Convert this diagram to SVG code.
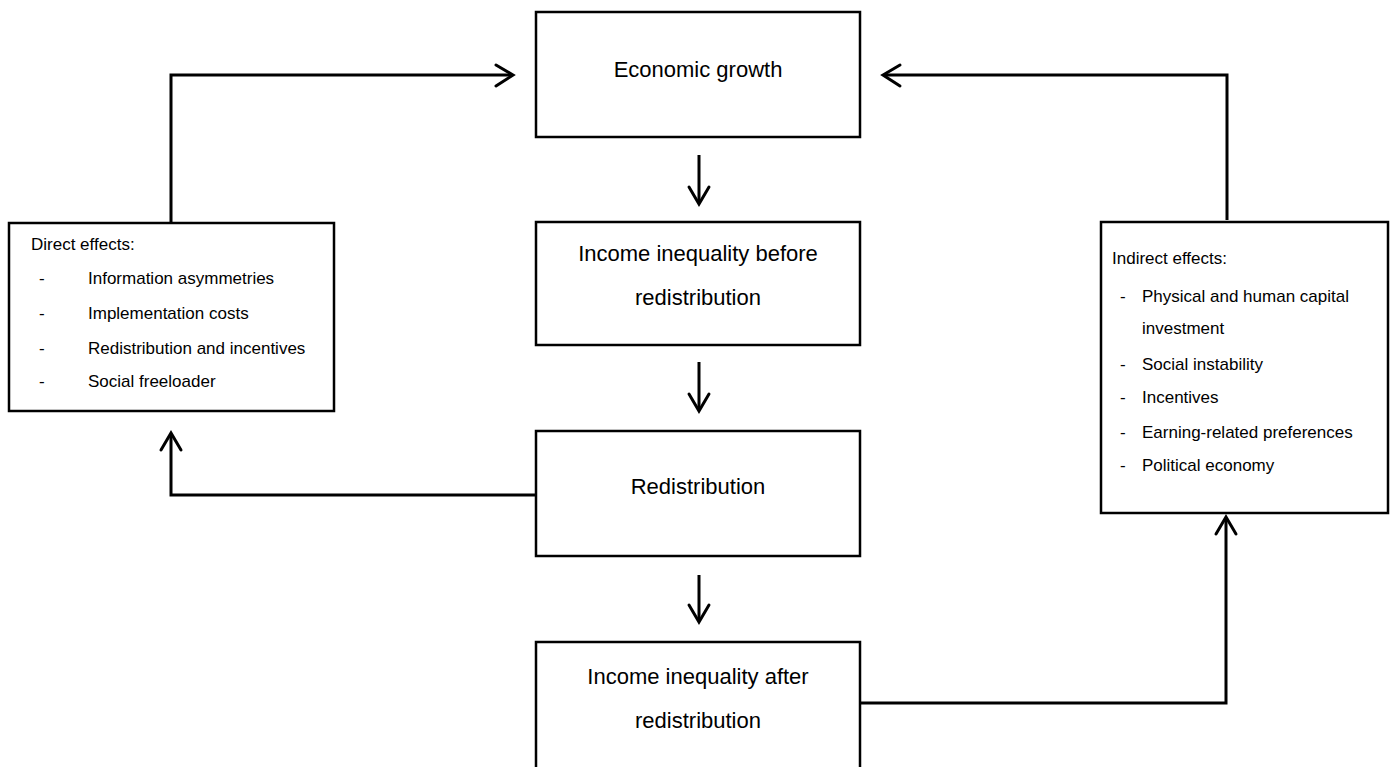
<svg xmlns="http://www.w3.org/2000/svg" width="1395" height="767" viewBox="0 0 1395 767">
<style>
.box{fill:#fff;stroke:#000;stroke-width:2.5}
.big{font-family:"Liberation Sans",Arial,sans-serif;font-size:22px;fill:#000;text-anchor:middle}
.sm{font-family:"Liberation Sans",Arial,sans-serif;font-size:17px;fill:#000}
.con{fill:none;stroke:#000;stroke-width:3}
.head{fill:none;stroke:#000;stroke-width:3;stroke-linecap:round;stroke-linejoin:miter}
</style>
<rect width="1395" height="767" fill="#fff"/>
<g id="connectors">
<path class="con" d="M171 223 V75 H512"/>
<path class="head" d="M496 65 L513 75 L496 86"/>
<path class="con" d="M1227 220 V75 H884"/>
<path class="head" d="M900 65 L883 75 L900 86"/>
<path class="con" d="M699 155 V203"/>
<path class="head" d="M689 187 L699 204 L709 187"/>
<path class="con" d="M699 362 V410"/>
<path class="head" d="M689 394 L699 411 L709 394"/>
<path class="con" d="M699 575 V621"/>
<path class="head" d="M689 605 L699 622 L709 605"/>
<path class="con" d="M535 495 H171 V434"/>
<path class="head" d="M161 450 L171 433 L181 450"/>
<path class="con" d="M860 703 H1226 V518"/>
<path class="head" d="M1216 534 L1226 517 L1236 534"/>
</g>
<g id="economic-growth">
<rect class="box" x="536" y="12" width="324" height="125"/>
<text class="big" x="698" y="77">Economic growth</text>
</g>
<g id="inequality-before">
<rect class="box" x="536" y="222" width="324" height="123"/>
<text class="big" x="698" y="261">Income inequality before</text>
<text class="big" x="698" y="305">redistribution</text>
</g>
<g id="redistribution">
<rect class="box" x="536" y="431" width="324" height="125"/>
<text class="big" x="698" y="494">Redistribution</text>
</g>
<g id="inequality-after">
<rect class="box" x="536" y="642" width="324" height="130"/>
<text class="big" x="698" y="684">Income inequality after</text>
<text class="big" x="698" y="728">redistribution</text>
</g>
<g id="direct-effects">
<rect class="box" x="9" y="223" width="325" height="188"/>
<text class="sm" x="31" y="250">Direct effects:</text>
<text class="sm" x="39" y="284">-</text><text class="sm" x="88" y="284">Information asymmetries</text>
<text class="sm" x="39" y="319">-</text><text class="sm" x="88" y="319">Implementation costs</text>
<text class="sm" x="39" y="354">-</text><text class="sm" x="88" y="354">Redistribution and incentives</text>
<text class="sm" x="39" y="387">-</text><text class="sm" x="88" y="387">Social freeloader</text>
</g>
<g id="indirect-effects">
<rect class="box" x="1101" y="222" width="287" height="291"/>
<text class="sm" x="1112" y="264">Indirect effects:</text>
<text class="sm" x="1120" y="302">-</text><text class="sm" x="1142" y="302">Physical and human capital</text>
<text class="sm" x="1142" y="334">investment</text>
<text class="sm" x="1120" y="370">-</text><text class="sm" x="1142" y="370">Social instability</text>
<text class="sm" x="1120" y="403">-</text><text class="sm" x="1142" y="403">Incentives</text>
<text class="sm" x="1120" y="438">-</text><text class="sm" x="1142" y="438">Earning-related preferences</text>
<text class="sm" x="1120" y="471">-</text><text class="sm" x="1142" y="471">Political economy</text>
</g>
</svg>
